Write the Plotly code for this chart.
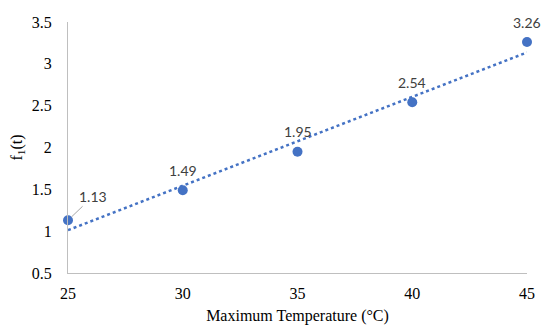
import numpy as np
import plotly.graph_objects as go

temps = [25, 30, 35, 40, 45]
f1_values = [1.13, 1.49, 1.95, 2.54, 3.26]
x_ticks = [25, 30, 35, 40, 45]
y_ticks = [0.5, 1, 1.5, 2, 2.5, 3, 3.5]

blue = "#4472C4"
serif = "Liberation Serif, Times New Roman, serif"
label_font = dict(family="Lato, Carlito, Calibri, sans-serif", size=14, color="#404040")

# linear trendline fitted from the data
slope, intercept = np.polyfit(temps, f1_values, 1)
trend_x = [temps[0], temps[-1]]
trend_y = [slope * t + intercept for t in trend_x]

fig = go.Figure()
fig.add_trace(go.Scatter(
    x=trend_x, y=trend_y, mode="lines",
    line=dict(color=blue, width=2.5, dash="dot"),
    hoverinfo="skip", showlegend=False, cliponaxis=False,
))
fig.add_trace(go.Scatter(
    x=temps, y=f1_values, mode="markers",
    marker=dict(color=blue, size=10),
    showlegend=False, cliponaxis=False,
))

for i, (t, v) in enumerate(zip(temps, f1_values)):
    txt = f"{v:.2f}"
    if i == 0:
        fig.add_annotation(
            x=t, y=v, text=txt, showarrow=True, arrowhead=0,
            arrowcolor="#a6a6a6", arrowwidth=1, ax=25, ay=-24,
            standoff=5, font=label_font,
        )
    else:
        fig.add_annotation(
            x=t, y=v, text=txt, showarrow=False, yshift=20,
            font=label_font,
        )

# page body adds an 8px offset; figure sized to fit the 550x334 window
fig.update_layout(
    width=542, height=326,
    margin=dict(l=60, r=23, t=14, b=61),
    paper_bgcolor="white", plot_bgcolor="white",
    xaxis=dict(
        range=[25, 45], tickvals=x_ticks, ticktext=[str(v) for v in x_ticks],
        showgrid=False, zeroline=False, automargin=False,
        showline=True, linecolor="#bfbfbf", linewidth=1,
        ticks="", ticklabelstandoff=6,
        tickfont=dict(family=serif, size=16, color="#000000"),
        title=dict(text="Maximum Temperature (°C)", standoff=8,
                   font=dict(family=serif, size=16, color="#000000")),
    ),
    yaxis=dict(
        range=[0.5, 3.5], tickvals=y_ticks,
        ticktext=[f"{v:g}" for v in y_ticks],
        showgrid=False, zeroline=False, automargin=False,
        showline=True, linecolor="#bfbfbf", linewidth=1,
        ticks="", ticklabelstandoff=12,
        tickfont=dict(family=serif, size=16, color="#000000"),
        title=dict(text="f<sub>1</sub>(t)", standoff=24,
                   font=dict(family=serif, size=16, color="#000000")),
    ),
)

fig.write_html("out.html")
